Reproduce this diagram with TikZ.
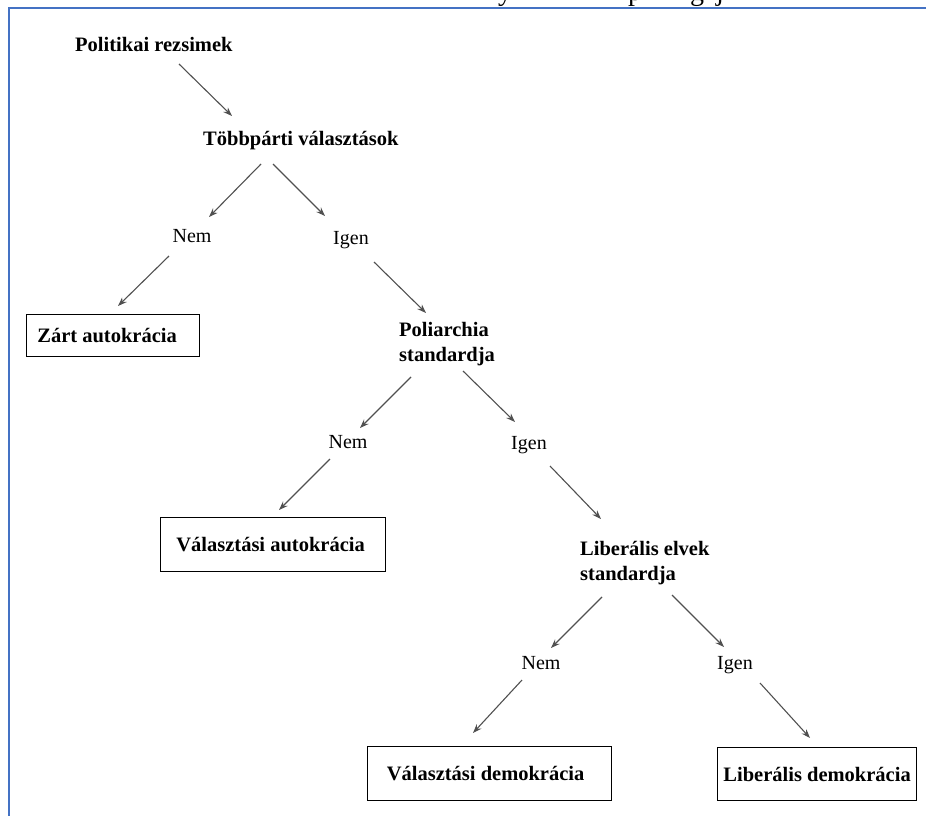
\documentclass[tikz,border=0pt]{standalone}
\usepackage{fontspec}
\setmainfont{Liberation Serif}
\usetikzlibrary{arrows.meta}
\definecolor{frameblue}{RGB}{68,114,196}
\definecolor{arrgray}{RGB}{80,80,80}
\begin{document}
\begin{tikzpicture}[x=1pt,y=-1pt,
  lbl/.style={font=\fontsize{20.5}{25}\selectfont\bfseries, inner sep=0pt, anchor=west, align=left},
  ans/.style={font=\fontsize{20}{24}\selectfont, inner sep=0pt},
  leaf/.style={draw, line width=1.2pt, font=\fontsize{20.5}{24}\selectfont\bfseries, anchor=north west, inner sep=0pt},
  arr/.style={draw=arrgray, line width=1.1pt, -{Stealth[length=9pt,width=6.5pt]}},
  frag/.style={font=\fontsize{28}{30}\selectfont, inner sep=0pt, anchor=base}]
\useasboundingbox (0,0) rectangle (926,816);
% clipped fragments of text above the frame
\begin{scope}
  \clip (0,0) rectangle (926,7);
  \node[frag] (f1) at (505,1) {y};
  \node[frag] (f2) at (635,1) {p};
  \node[frag] (f3) at (697,1) {g};
  \node[frag] (f4) at (720,1) {j};
\end{scope}
% frame
\draw[frameblue, line width=2.2pt] (926,8) -- (9,8) -- (9,816);
% question nodes
\node[lbl] (pol) at (75,44) {Politikai rezsimek};
\node[lbl] (tobb) at (203,141) {Többpárti választások};
\node[lbl] (poli) at (399,344.5) {Poliarchia\\standardja};
\node[lbl] (lib) at (580,563) {Liberális elvek\\standardja};
% answers
\node[ans] (nem1) at (192,236) {Nem};
\node[ans] (igen1) at (351,240) {Igen};
\node[ans] (nem2) at (348,442) {Nem};
\node[ans] (igen2) at (529,445) {Igen};
\node[ans] (nem3) at (541,663) {Nem};
\node[ans] (igen3) at (735,665) {Igen};
% leaves
\node[leaf, minimum width=173pt, minimum height=42pt] (zart) at (26,314) {\hspace{-12pt}Zárt autokrácia};
\node[leaf, minimum width=225pt, minimum height=54pt] (vaut) at (160,517) {\hspace{-5pt}Választási autokrácia};
\node[leaf, minimum width=244pt, minimum height=54pt] (vdem) at (367,746) {\hspace{-8pt}Választási demokrácia};
\node[leaf, minimum width=199pt, minimum height=53pt] (ldem) at (717,747) {Liberális demokrácia};
% connector end points
\coordinate (a1s) at (179,64);  \coordinate (a1e) at (232,116);
\coordinate (a2s) at (261,164); \coordinate (a2e) at (209,217);
\coordinate (a3s) at (273,164); \coordinate (a3e) at (325,216);
\coordinate (a4s) at (169,256); \coordinate (a4e) at (118,306);
\coordinate (a5s) at (374,262); \coordinate (a5e) at (426,313);
\coordinate (a6s) at (411,377); \coordinate (a6e) at (360,428);
\coordinate (a7s) at (463,371); \coordinate (a7e) at (515,422);
\coordinate (a8s) at (330,459); \coordinate (a8e) at (279,510);
\coordinate (a9s) at (550,466); \coordinate (a9e) at (601,519);
\coordinate (a10s) at (602,597); \coordinate (a10e) at (551,648);
\coordinate (a11s) at (672,595); \coordinate (a11e) at (724,647);
\coordinate (a12s) at (522,680); \coordinate (a12e) at (473,733);
\coordinate (a13s) at (760,683); \coordinate (a13e) at (810,738);
\foreach \i in {1,...,13} { \draw[arr] (a\i s) -- (a\i e); }
\end{tikzpicture}
\end{document}
